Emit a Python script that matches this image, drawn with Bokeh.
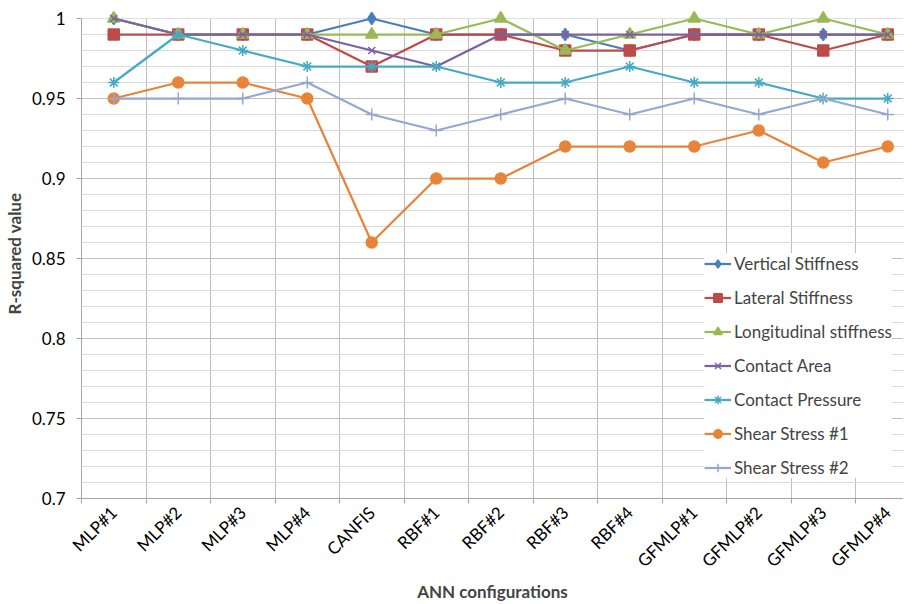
import math
import numpy as np
from bokeh.plotting import figure
from bokeh.models import (Range1d, FixedTicker, CustomJSTickFormatter, Legend, LegendItem,
                          BoxAnnotation)
from bokeh.embed import file_html
from bokeh.resources import INLINE

categories = ["MLP#1", "MLP#2", "MLP#3", "MLP#4", "CANFIS", "RBF#1", "RBF#2", "RBF#3",
              "RBF#4", "GFMLP#1", "GFMLP#2", "GFMLP#3", "GFMLP#4"]

vertical_stiffness = [1.00, 0.99, 0.99, 0.99, 1.00, 0.99, 0.99, 0.99, 0.98, 0.99, 0.99, 0.99, 0.99]
lateral_stiffness = [0.99, 0.99, 0.99, 0.99, 0.97, 0.99, 0.99, 0.98, 0.98, 0.99, 0.99, 0.98, 0.99]
longitudinal_stiffness = [1.00, 0.99, 0.99, 0.99, 0.99, 0.99, 1.00, 0.98, 0.99, 1.00, 0.99, 1.00, 0.99]
contact_area = [1.00, 0.99, 0.99, 0.99, 0.98, 0.97, 0.99, 0.99, 0.99, 0.99, 0.99, 0.99, 0.99]
contact_pressure = [0.96, 0.99, 0.98, 0.97, 0.97, 0.97, 0.96, 0.96, 0.97, 0.96, 0.96, 0.95, 0.95]
shear_stress_1 = [0.95, 0.96, 0.96, 0.95, 0.86, 0.90, 0.90, 0.92, 0.92, 0.92, 0.93, 0.91, 0.92]
shear_stress_2 = [0.95, 0.95, 0.95, 0.96, 0.94, 0.93, 0.94, 0.95, 0.94, 0.95, 0.94, 0.95, 0.94]

y_ticks = [0.7, 0.75, 0.8, 0.85, 0.9, 0.95, 1.0]
y_min, y_max = 0.7, 1.0

series = [
    ("Vertical Stiffness", vertical_stiffness, "#4A7EBB", "diamond", 12),
    ("Lateral Stiffness", lateral_stiffness, "#BE4B48", "square", 11),
    ("Longitudinal stiffness", longitudinal_stiffness, "#98B954", "triangle", 12),
    ("Contact Area", contact_area, "#7D60A0", "x", 10),
    ("Contact Pressure", contact_pressure, "#46AAC5", "asterisk", 11),
    ("Shear Stress #1", shear_stress_1, "#E8843A", "circle", 11),
    ("Shear Stress #2", shear_stress_2, "#93A9CF", "cross", 12),
]

FONT = "Lato"
n = len(categories)
xs = np.arange(n) + 0.5
bounds = list(range(n + 1))

# 480 px for the 0.7..1.0 span, plus 10 px headroom so top markers are not clipped
frame_h = 490
y_top = y_min + (y_max - y_min) * frame_h / 480

p = figure(frame_width=822, frame_height=frame_h, output_backend="svg", toolbar_location=None,
           x_range=Range1d(0, 822 / 64.5), y_range=Range1d(y_min, y_top),
           min_border_left=74, min_border_right=0, min_border_top=8, min_border_bottom=80)
p.title = None
p.outline_line_color = None
p.background_fill_color = "white"

# x axis
p.xaxis.ticker = FixedTicker(ticks=list(xs), minor_ticks=bounds)
p.xaxis.formatter = CustomJSTickFormatter(args=dict(labels=categories),
                                          code="return labels[Math.floor(tick)] || '';")
p.xaxis.major_tick_out = 0
p.xaxis.major_tick_in = 0
p.xaxis.minor_tick_out = 5
p.xaxis.minor_tick_in = 0
p.xaxis.major_label_orientation = math.pi / 4
p.xaxis.axis_line_color = "#A6A6A6"
p.xaxis.minor_tick_line_color = "#A6A6A6"
p.xaxis.major_label_text_font = FONT
p.xaxis.major_label_text_font_size = "17px"
p.xaxis.major_label_text_color = "#000000"
p.xaxis.major_label_standoff = 6
p.xaxis.axis_label = "ANN configurations"
p.xaxis.axis_label_text_font = FONT
p.xaxis.axis_label_text_font_style = "bold"
p.xaxis.axis_label_text_font_size = "17px"
p.xaxis.axis_label_standoff = 0

# y axis
p.yaxis.bounds = (y_min, y_max)
p.yaxis.ticker = FixedTicker(ticks=y_ticks, minor_ticks=list(np.round(np.arange(70, 101) / 100, 2)))
p.yaxis.formatter = CustomJSTickFormatter(code="return String(parseFloat(tick.toFixed(2)));")
p.yaxis.major_tick_out = 5
p.yaxis.major_tick_in = 0
p.yaxis.minor_tick_out = 0
p.yaxis.minor_tick_in = 0
p.yaxis.axis_line_color = "#A6A6A6"
p.yaxis.major_tick_line_color = "#A6A6A6"
p.yaxis.major_label_text_font = FONT
p.yaxis.major_label_text_font_size = "17px"
p.yaxis.major_label_text_color = "#000000"
p.yaxis.major_label_standoff = 11
p.yaxis.axis_label = "R-squared value"
p.yaxis.axis_label_text_font = FONT
p.yaxis.axis_label_text_font_style = "bold"
p.yaxis.axis_label_text_font_size = "17px"
p.yaxis.axis_label_standoff = 4

# grids
p.xgrid.ticker = FixedTicker(ticks=bounds)
p.xgrid.grid_line_color = "#BFBFBF"
p.ygrid.grid_line_color = "#BFBFBF"
p.ygrid.minor_grid_line_color = "#D9D9D9"

# hide the grid in the headroom above 1.0
p.add_layout(BoxAnnotation(bottom=y_max, fill_color="white", fill_alpha=1.0,
                           line_color=None, level="underlay"))

items = []
for name, vals, color, marker, size in series:
    ln = p.line(xs, vals, line_color=color, line_width=2.25)
    sc = p.scatter(xs, vals, marker=marker, size=size, fill_color=color,
                   line_color=color, line_width=1.5)
    items.append(LegendItem(label=name, renderers=[ln, sc]))

legend = Legend(items=items, location=(623, 20), border_line_color=None,
                background_fill_color="white", background_fill_alpha=1.0,
                glyph_width=27, glyph_height=21, label_height=21, spacing=13,
                padding=8, margin=0, label_standoff=3,
                label_text_font=FONT, label_text_font_size="17px")
p.add_layout(legend)

open("out.html", "w").write(file_html(p, INLINE))
